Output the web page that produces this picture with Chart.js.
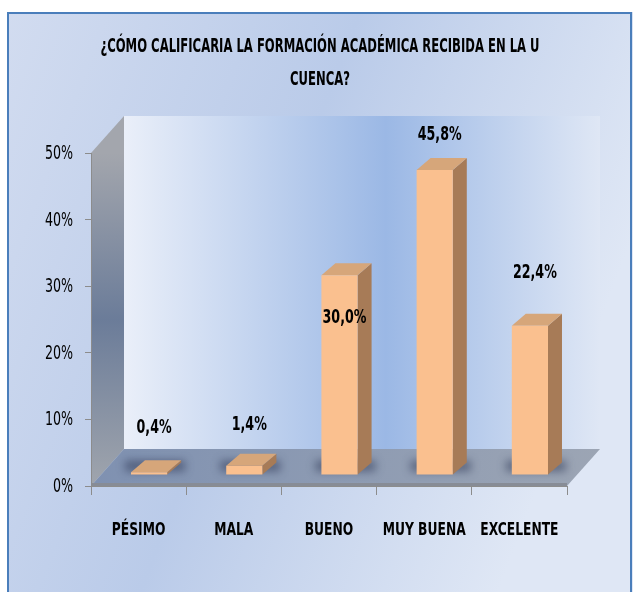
<!DOCTYPE html>
<html>
<head>
<meta charset="utf-8">
<script src="https://cdn.jsdelivr.net/npm/chart.js@4/dist/chart.umd.min.js"></script>
<style>
  html, body { margin: 0; padding: 0; background: #fff; }
  #wrap { width: 633px; height: 592px; }
</style>
</head>
<body>
<div id="wrap"><canvas id="chart" width="633" height="592"></canvas></div>
<script>
  // datos del grafico
  const categories = ['PÉSIMO', 'MALA', 'BUENO', 'MUY BUENA', 'EXCELENTE'];
  const percentages = [0.4, 1.4, 30.0, 45.8, 22.4];
  const yTicks = [0, 10, 20, 30, 40, 50];
  const titleLines = ['¿CÓMO CALIFICARIA LA FORMACIÓN ACADÉMICA RECIBIDA EN LA U', 'CUENCA?'];
  // desplazamiento vertical de cada etiqueta respecto al tope de la barra (px)
  const labelShift = [-44, -41, 43, -35, -53];

  const FONT = "'Liberation Sans Narrow', 'DejaVu Sans Condensed', 'Open Sans', sans-serif";
  const WALL_DX = 33, WALL_DY = -37;   // profundidad de paredes y piso
  const BAR_DX = 10.5, BAR_DY = -11;   // posicion de las barras dentro del piso
  const SIDE_DX = 14, SIDE_DY = -12;   // profundidad de cada barra

  function fmt(v) {
    return v.toFixed(1).replace('.', ',') + '%';
  }

  // texto angosto (tipo Calibri) escalando en horizontal
  function narrowText(ctx, text, x, y, sx) {
    ctx.save();
    ctx.translate(x, y);
    ctx.scale(sx, 1);
    ctx.fillText(text, 0, 0);
    ctx.restore();
  }

  // Plugin para el efecto 3D tipo Excel
  const depthPlugin = {
    id: 'depth3d',
    beforeDraw(chart) {
      const { ctx, chartArea: a, width, height } = chart;
      ctx.save();
      ctx.fillStyle = '#fff';
      ctx.fillRect(0, 0, width, height);

      // fondo general
      let g = ctx.createLinearGradient(7, 0, width, height * 0.4);
      g.addColorStop(0, '#d2dcf0');
      g.addColorStop(0.5, '#bacbe9');
      g.addColorStop(1, '#dfe7f5');
      ctx.fillStyle = g;
      ctx.fillRect(7, 12, width - 7, height - 12);
      ctx.strokeStyle = '#4a7ebb';
      ctx.lineWidth = 2;
      ctx.strokeRect(8, 13, width - 10, height + 10);

      // pared del fondo
      g = ctx.createLinearGradient(a.left + WALL_DX, 0, a.right + WALL_DX, 0);
      g.addColorStop(0, '#eaeff9');
      g.addColorStop(0.55, '#9bb8e5');
      g.addColorStop(1, '#dfe7f5');
      ctx.fillStyle = g;
      ctx.fillRect(a.left + WALL_DX, a.top + WALL_DY, a.right - a.left, a.bottom - a.top);

      // pared lateral
      g = ctx.createLinearGradient(0, a.top, 0, a.bottom);
      g.addColorStop(0, '#a3a6ad');
      g.addColorStop(0.5, '#6b7c99');
      g.addColorStop(1, '#a0a5ad');
      ctx.fillStyle = g;
      ctx.beginPath();
      ctx.moveTo(a.left, a.top);
      ctx.lineTo(a.left + WALL_DX, a.top + WALL_DY);
      ctx.lineTo(a.left + WALL_DX, a.bottom + WALL_DY);
      ctx.lineTo(a.left, a.bottom);
      ctx.closePath();
      ctx.fill();

      // piso
      g = ctx.createLinearGradient(a.left, 0, a.right + WALL_DX, 0);
      g.addColorStop(0, '#7f91b1');
      g.addColorStop(1, '#9ca5b4');
      ctx.fillStyle = g;
      ctx.beginPath();
      ctx.moveTo(a.left, a.bottom);
      ctx.lineTo(a.right, a.bottom);
      ctx.lineTo(a.right + WALL_DX, a.bottom + WALL_DY);
      ctx.lineTo(a.left + WALL_DX, a.bottom + WALL_DY);
      ctx.closePath();
      ctx.fill();
      ctx.fillStyle = '#878c96';
      ctx.fillRect(a.left, a.bottom - 3, a.right - a.left, 3);

      // titulo
      ctx.fillStyle = '#000';
      ctx.font = 'bold 19px ' + FONT;
      ctx.textAlign = 'center';
      ctx.textBaseline = 'middle';
      narrowText(ctx, titleLines[0], 320, 47, 0.68);
      narrowText(ctx, titleLines[1], 320, 80, 0.68);
      ctx.restore();
    },
    beforeDatasetsDraw(chart) {
      const ctx = chart.ctx;
      ctx.save();
      ctx.translate(BAR_DX, BAR_DY);
      const bars = chart.getDatasetMeta(0).data;
      bars.forEach(function(bar) {
        const x0 = bar.x - bar.width / 2;
        const x1 = bar.x + bar.width / 2;
        const top = bar.y, base = bar.base;

        // sombra
        ctx.save();
        ctx.filter = 'blur(4px)';
        ctx.fillStyle = 'rgba(35, 45, 75, 0.5)';
        ctx.fillRect(x0 - 6, base - 14, x1 - x0 + 24, 11);
        ctx.restore();

        // lado
        ctx.fillStyle = '#a77b57';
        ctx.beginPath();
        ctx.moveTo(x1, top);
        ctx.lineTo(x1 + SIDE_DX, top + SIDE_DY);
        ctx.lineTo(x1 + SIDE_DX, base + SIDE_DY);
        ctx.lineTo(x1, base);
        ctx.closePath();
        ctx.fill();

        // tapa
        ctx.fillStyle = '#d6a67a';
        ctx.beginPath();
        ctx.moveTo(x0, top);
        ctx.lineTo(x1, top);
        ctx.lineTo(x1 + SIDE_DX, top + SIDE_DY);
        ctx.lineTo(x0 + SIDE_DX, top + SIDE_DY);
        ctx.closePath();
        ctx.fill();
      });
    },
    afterDatasetsDraw(chart) {
      const ctx = chart.ctx;
      ctx.restore();
      ctx.save();
      ctx.fillStyle = '#000';
      ctx.font = 'bold 19px ' + FONT;
      ctx.textAlign = 'center';
      ctx.textBaseline = 'middle';
      chart.getDatasetMeta(0).data.forEach(function(bar, i) {
        narrowText(ctx, fmt(percentages[i]), bar.x + BAR_DX + 5, bar.y + BAR_DY + labelShift[i], 0.74);
      });
      ctx.restore();
    },
    afterDraw(chart) {
      // etiquetas de los ejes, angostas y altas como en Excel
      const { ctx, chartArea: a } = chart;
      const xs = chart.scales.x, ys = chart.scales.y;
      ctx.save();
      ctx.fillStyle = '#000';
      ctx.textBaseline = 'middle';
      ctx.textAlign = 'center';
      ctx.font = 'bold 18px ' + FONT;
      chart.data.labels.forEach(function(lbl, i) {
        narrowText(ctx, lbl, xs.getPixelForTick(i), a.bottom + 44, 0.76);
      });
      ctx.textAlign = 'right';
      ctx.font = '19px ' + FONT;
      yTicks.forEach(function(v) {
        narrowText(ctx, v + '%', a.left - 18, ys.getPixelForValue(v) + 1, 0.74);
      });
      ctx.restore();
    }
  };

  new Chart(document.getElementById('chart'), {
    type: 'bar',
    data: {
      labels: categories,
      datasets: [{
        data: percentages,
        backgroundColor: '#fac08f',
        borderWidth: 0,
        categoryPercentage: 1,
        barPercentage: 0.38,
        clip: false
      }]
    },
    options: {
      responsive: false,
      animation: false,
      layout: { padding: { left: 0, top: 153, right: 66, bottom: 0 } },
      plugins: {
        legend: { display: false },
        tooltip: { enabled: false }
      },
      scales: {
        x: {
          grid: { display: true, drawOnChartArea: false, tickLength: 9, color: '#8c8c8c', offset: true },
          border: { color: '#8c8c8c', width: 1 },
          ticks: { display: false, autoSkip: false, maxRotation: 0 },
          afterFit: function(scale) { scale.height = 106; }
        },
        y: {
          min: yTicks[0],
          max: yTicks[yTicks.length - 1],
          grid: { display: true, drawOnChartArea: false, tickLength: 6, color: '#8c8c8c' },
          border: { color: '#8c8c8c', width: 1 },
          afterBuildTicks: function(scale) {
            scale.ticks = yTicks.map(function(v) { return { value: v }; });
          },
          ticks: { display: false },
          afterFit: function(scale) { scale.width = 91; }
        }
      }
    },
    plugins: [depthPlugin]
  });
</script>
</body>
</html>
